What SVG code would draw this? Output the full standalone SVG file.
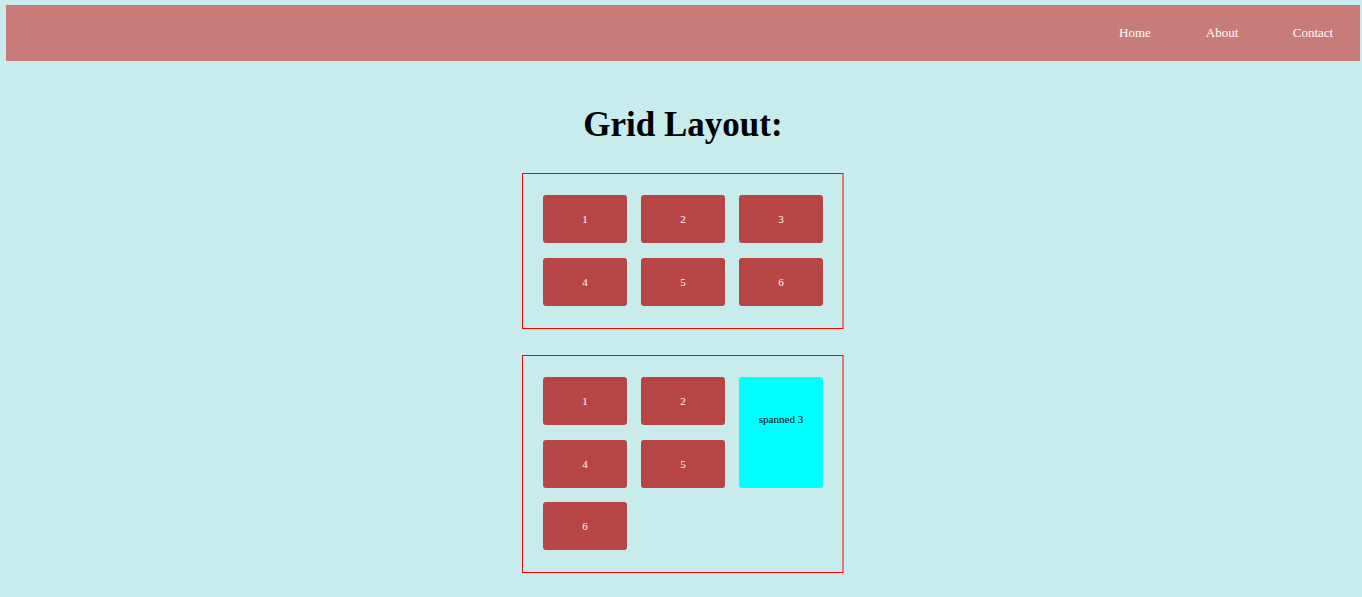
<svg xmlns="http://www.w3.org/2000/svg" width="1362" height="597" viewBox="0 0 1362 597">
<style>
.cell{fill:#b84545}
.lbl{font-family:"Liberation Serif",serif;font-size:11px;fill:#fff;text-anchor:middle}
.nav{font-family:"Liberation Serif",serif;font-size:13px;fill:#fff;text-anchor:middle}
.box{fill:none;stroke:#ff0000;stroke-width:1}
</style>
<rect x="0" y="0" width="1362" height="597" fill="#c8ecec"/>
<g id="header">
<rect x="6" y="5" width="1354" height="56" fill="#c77c7a"/>
<text class="nav" x="1135" y="37">Home</text>
<text class="nav" x="1222" y="37">About</text>
<text class="nav" x="1313" y="37">Contact</text>
</g>
<text id="title" x="683" y="136" font-family="Liberation Serif,serif" font-size="35" font-weight="bold" text-anchor="middle" fill="#000">Grid Layout:</text>
<g id="grid1">
<rect class="box" x="522.5" y="173.5" width="320.5" height="155"/>
<g id="g1c1"><rect class="cell" x="543" y="195" width="84" height="48" rx="3"/><text class="lbl" x="585" y="223">1</text></g>
<g id="g1c2"><rect class="cell" x="641" y="195" width="84" height="48" rx="3"/><text class="lbl" x="683" y="223">2</text></g>
<g id="g1c3"><rect class="cell" x="739" y="195" width="84" height="48" rx="3"/><text class="lbl" x="781" y="223">3</text></g>
<g id="g1c4"><rect class="cell" x="543" y="258" width="84" height="48" rx="3"/><text class="lbl" x="585" y="286">4</text></g>
<g id="g1c5"><rect class="cell" x="641" y="258" width="84" height="48" rx="3"/><text class="lbl" x="683" y="286">5</text></g>
<g id="g1c6"><rect class="cell" x="739" y="258" width="84" height="48" rx="3"/><text class="lbl" x="781" y="286">6</text></g>
</g>
<g id="grid2">
<rect class="box" x="522.5" y="355.5" width="320.5" height="217"/>
<g id="g2c1"><rect class="cell" x="543" y="377" width="84" height="48" rx="3"/><text class="lbl" x="585" y="405">1</text></g>
<g id="g2c2"><rect class="cell" x="641" y="377" width="84" height="48" rx="3"/><text class="lbl" x="683" y="405">2</text></g>
<g id="g2c3"><rect x="739" y="377" width="84" height="111" rx="3" fill="#00ffff"/><text x="781" y="423" font-family="Liberation Serif,serif" font-size="11" text-anchor="middle" fill="#000">spanned 3</text></g>
<g id="g2c4"><rect class="cell" x="543" y="440" width="84" height="48" rx="3"/><text class="lbl" x="585" y="468">4</text></g>
<g id="g2c5"><rect class="cell" x="641" y="440" width="84" height="48" rx="3"/><text class="lbl" x="683" y="468">5</text></g>
<g id="g2c6"><rect class="cell" x="543" y="502" width="84" height="48" rx="3"/><text class="lbl" x="585" y="530">6</text></g>
</g>
</svg>
